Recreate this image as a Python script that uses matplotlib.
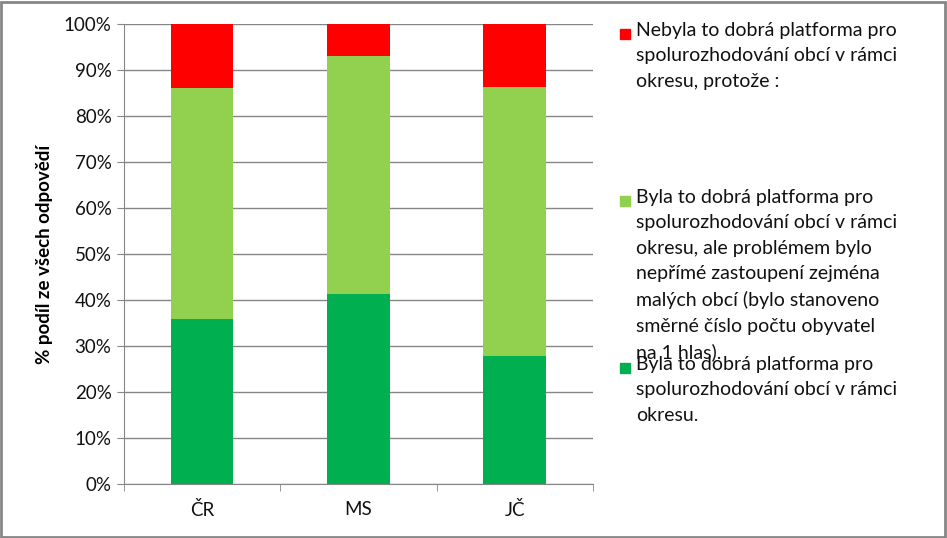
import numpy as np
import matplotlib.pyplot as plt
from matplotlib.patches import Rectangle

plt.rcParams['font.family'] = ['Lato', 'DejaVu Sans']

categories = ['ČR', 'MS', 'JČ']
dobra = [35.9, 41.3, 27.8]            # dark green
dobra_ale = [50.2, 51.7, 58.5]        # light green
nebyla = [13.9, 7.0, 13.7]            # red

labels = [
    'Nebyla to dobrá platforma pro\nspolurozhodování obcí v rámci\nokresu, protože :',
    'Byla to dobrá platforma pro\nspolurozhodování obcí v rámci\nokresu, ale problémem bylo\n'
    'nepřímé zastoupení zejména\nmalých obcí (bylo stanoveno\nsměrné číslo počtu obyvatel\nna 1 hlas).',
    'Byla to dobrá platforma pro\nspolurozhodování obcí v rámci\nokresu.',
]
colors = ['#ff0000', '#92d050', '#00b050']

fig = plt.figure(figsize=(9.47, 5.38), dpi=100)
ax = fig.add_axes([0.131, 0.1004, 0.495, 0.855])

x = np.arange(len(categories))
ax.bar(x, dobra, width=0.4, color=colors[2], zorder=2)
ax.bar(x, dobra_ale, width=0.4, bottom=dobra, color=colors[1], zorder=2)
bottom2 = np.array(dobra) + np.array(dobra_ale)
ax.bar(x, nebyla, width=0.4, bottom=bottom2, color=colors[0], zorder=2)

ax.set_xlim(-0.5, 2.5)
ax.set_ylim(0, 100)
ax.set_yticks(np.arange(0, 101, 10))
ax.set_yticklabels([f'{v}%' for v in range(0, 101, 10)], fontsize=13.5, color='#111111')
ax.yaxis.grid(True, color='#868686', linewidth=1, zorder=0)
ax.set_axisbelow(True)
ax.set_xticks(x)
ax.set_xticklabels(categories, fontsize=13.5, color='#111111')
ax.tick_params(axis='x', length=0, pad=12)
ax.set_xticks([-0.5, 0.5, 1.5, 2.5], minor=True)
ax.tick_params(axis='x', which='minor', length=5, color='#868686')
ax.tick_params(axis='y', length=5, color='#868686', pad=4)
for s in ['top', 'right']:
    ax.spines[s].set_visible(False)
for s in ['left', 'bottom']:
    ax.spines[s].set_color('#868686')

ax.set_ylabel('% podíl ze všech odpovědí', fontsize=13.5, fontweight='bold', labelpad=8)

W, H = 947, 538
tops = [34, 201, 368]
for lab, col, yc in zip(labels, colors, tops):
    fig.patches.append(Rectangle((620 / W, 1 - (yc + 5) / H), 10 / W, 10 / H,
                                 transform=fig.transFigure, color=col))
    fig.text(636 / W, 1 - (yc - 12) / H, lab, fontsize=14, va='top', ha='left',
             linespacing=1.6, color='#111111')

fig.patches.append(Rectangle((0.001, 0.002), 0.997, 0.995, transform=fig.transFigure,
                             fill=False, edgecolor='#868686', linewidth=2))

fig.savefig('out.png', dpi=100)
